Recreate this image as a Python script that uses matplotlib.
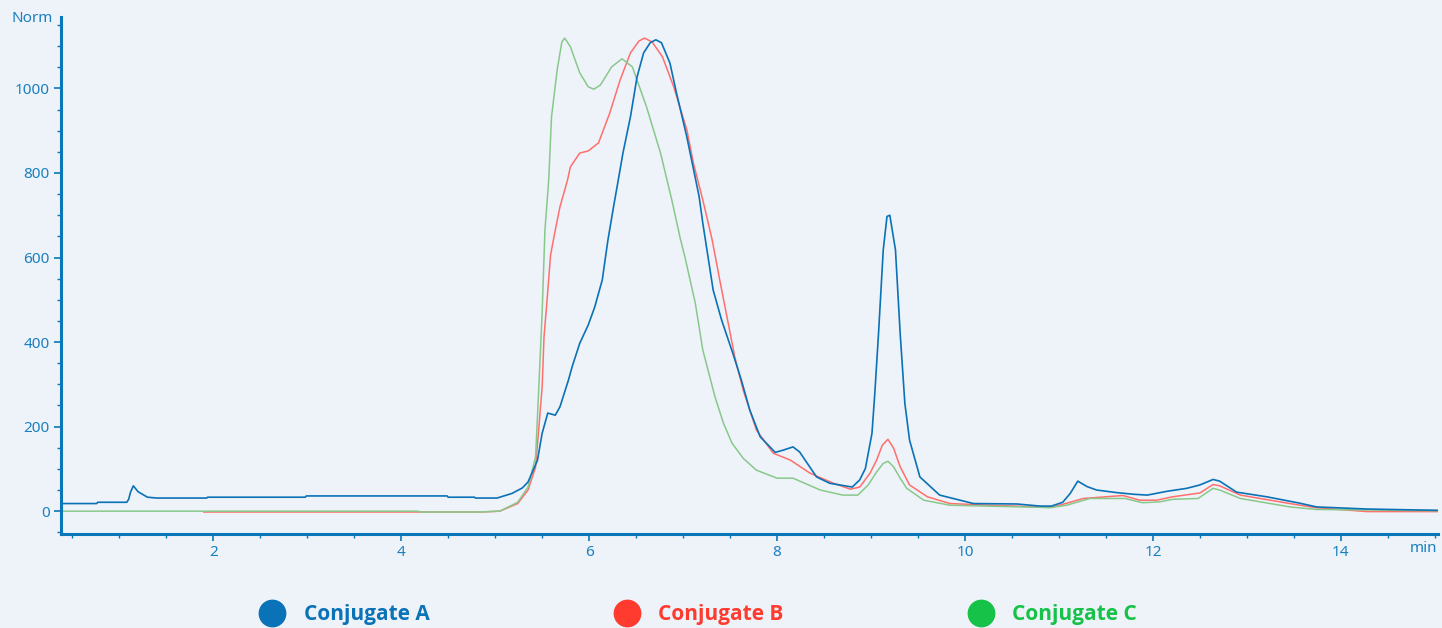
import matplotlib.pyplot as plt
from matplotlib.lines import Line2D
from matplotlib.ticker import MultipleLocator

# Chromatogram traces (time in min, normalised signal)
a_time = [0.38, 0.76, 0.77, 1.08, 1.10, 1.12, 1.15, 1.20, 1.30, 1.40, 1.93, 1.94, 2.98, 2.99,
          4.49, 4.50, 4.78, 4.79, 5.02, 5.18, 5.29, 5.35, 5.45, 5.50, 5.56, 5.64, 5.69, 5.78,
          5.82, 5.90, 5.99, 6.06, 6.14, 6.20, 6.26, 6.31, 6.36, 6.44, 6.51, 6.58, 6.65, 6.71,
          6.77, 6.86, 6.93, 7.04, 7.17, 7.21, 7.32, 7.41, 7.53, 7.62, 7.71, 7.82, 7.98, 8.06,
          8.17, 8.24, 8.42, 8.56, 8.80, 8.88, 8.94, 9.01, 9.04, 9.08, 9.13, 9.17, 9.20, 9.26,
          9.31, 9.36, 9.41, 9.52, 9.73, 10.09, 10.55, 10.80, 10.92, 11.04, 11.12, 11.20, 11.30,
          11.40, 11.61, 11.79, 11.94, 12.15, 12.36, 12.50, 12.64, 12.71, 12.89, 13.21, 13.56,
          13.74, 14.28, 15.03]
a_signal = [18, 18, 21, 21, 28, 45, 60, 46, 33, 31, 31, 33, 33, 36,
            36, 33, 33, 31, 31, 42, 55, 69, 120, 184, 232, 227, 247, 310,
            342, 397, 440, 483, 547, 641, 720, 783, 847, 933, 1027, 1084, 1108, 1115,
            1108, 1060, 989, 885, 745, 681, 523, 452, 373, 310, 239, 176, 139, 144,
            152, 140, 81, 66, 57, 74, 101, 184, 278, 421, 618, 697, 700, 618,
            421, 255, 168, 81, 38, 18, 17, 12, 12, 21, 42, 71, 58,
            50, 44, 40, 38, 47, 54, 62, 75, 71, 45, 34, 19,
            10, 5, 2]

b_time = [1.90, 4.18, 4.84, 5.05, 5.24, 5.35, 5.43, 5.46, 5.50, 5.52, 5.55, 5.59, 5.64, 5.69,
          5.77, 5.80, 5.90, 5.99, 6.10, 6.22, 6.33, 6.44, 6.53, 6.59, 6.67, 6.78, 6.90, 7.04,
          7.11, 7.21, 7.26, 7.31, 7.39, 7.48, 7.55, 7.64, 7.78, 7.96, 8.14, 8.35, 8.60, 8.78,
          8.88, 8.99, 9.06, 9.12, 9.18, 9.24, 9.31, 9.41, 9.60, 9.84, 10.27, 10.80, 10.94,
          11.26, 11.68, 11.86, 12.04, 12.21, 12.50, 12.64, 12.71, 12.93, 13.43, 13.74, 14.28,
          15.03]
b_signal = [-2, -2, -2, 0, 18, 50, 104, 184, 293, 412, 492, 606, 665, 720,
            783, 814, 847, 852, 871, 942, 1020, 1084, 1112, 1119, 1110, 1075, 1004, 902,
            823, 736, 689, 641, 547, 445, 365, 286, 192, 137, 121, 90, 66, 52,
            57, 90, 121, 156, 170, 149, 105, 62, 34, 18, 14, 10, 10,
            30, 37, 26, 26, 34, 43, 63, 60, 38, 19, 8, -1,
            -1]

c_time = [0.38, 4.18, 4.20, 4.84, 5.05, 5.24, 5.35, 5.43, 5.46, 5.50, 5.53, 5.57, 5.60, 5.66,
          5.71, 5.74, 5.80, 5.90, 5.99, 6.05, 6.12, 6.24, 6.35, 6.46, 6.61, 6.76, 6.88, 6.97,
          7.02, 7.13, 7.21, 7.34, 7.43, 7.52, 7.64, 7.78, 8.00, 8.17, 8.46, 8.70, 8.86, 8.97,
          9.06, 9.13, 9.18, 9.24, 9.31, 9.38, 9.56, 9.84, 10.80, 10.90, 11.08, 11.33, 11.70,
          11.89, 12.07, 12.21, 12.48, 12.64, 12.71, 12.93, 13.46, 13.74, 15.03]
c_signal = [0, 0, -2, -2, 0, 21, 57, 128, 270, 468, 665, 783, 933, 1044,
            1110, 1119, 1099, 1037, 1004, 998, 1008, 1051, 1070, 1051, 957, 847, 736, 645,
            601, 492, 381, 270, 208, 161, 125, 97, 78, 78, 50, 38, 38, 62,
            93, 113, 118, 105, 78, 54, 26, 14, 9, 8, 14, 30, 30,
            20, 22, 28, 30, 54, 50, 30, 10, 4, 1]

names = ['Conjugate A', 'Conjugate B', 'Conjugate C']
line_colors = ['#0a72b6', '#ff6f6c', '#88c98b']
legend_colors = ['#0a72b6', '#ff3b30', '#17c249']

axis_color = '#0a77b8'
label_color = '#1a80c0'
bg = '#eef2f9'

fig = plt.figure(figsize=(14.42, 6.28), dpi=100, facecolor=bg)
ax = fig.add_axes([0.0423, 0.1497, 0.9547, 0.8233], facecolor=bg)

ax.plot(b_time, b_signal, color=line_colors[1], lw=1.1)
ax.plot(c_time, c_signal, color=line_colors[2], lw=1.1)
ax.plot(a_time, a_signal, color=line_colors[0], lw=1.2)

ax.set_xlim(0.38, 15.03)
ax.set_ylim(-54, 1169)
ax.set_xticks([2, 4, 6, 8, 10, 12, 14])
ax.set_yticks([0, 200, 400, 600, 800, 1000])
ax.xaxis.set_minor_locator(MultipleLocator(0.5))
ax.yaxis.set_minor_locator(MultipleLocator(50))

for side in ['top', 'right']:
    ax.spines[side].set_visible(False)
for side in ['left', 'bottom']:
    ax.spines[side].set_color(axis_color)
    ax.spines[side].set_linewidth(2.2)

ax.tick_params(which='major', direction='out', length=5, width=1.2, color=axis_color,
               labelcolor=label_color, labelsize=11, pad=3)
ax.tick_params(which='minor', direction='out', length=3, width=1.0, color=axis_color)
for lab in ax.get_xticklabels() + ax.get_yticklabels():
    lab.set_fontfamily('Noto Sans')

ax.text(-0.006, 0.997, 'Norm', transform=ax.transAxes, ha='right', va='center',
        color=label_color, fontsize=11, family='Noto Sans')
ax.text(1.0, -0.029, 'min', transform=ax.transAxes, ha='right', va='center',
        color=label_color, fontsize=11, family='Noto Sans')

handles = [Line2D([], [], ls='none', marker='o', markersize=19, color=c) for c in legend_colors]
leg = fig.legend(handles, names, loc='center', bbox_to_anchor=(0.4835, 0.021), ncol=3,
                 frameon=False, handlelength=1.4, handletextpad=0.79, columnspacing=8.78,
                 prop={'family': ['Open Sans', 'DejaVu Sans'], 'weight': 'bold', 'size': 15},
                 borderpad=0)
for txt, c in zip(leg.get_texts(), legend_colors):
    txt.set_color(c)

fig.savefig('out.png', dpi=100, facecolor=bg)
